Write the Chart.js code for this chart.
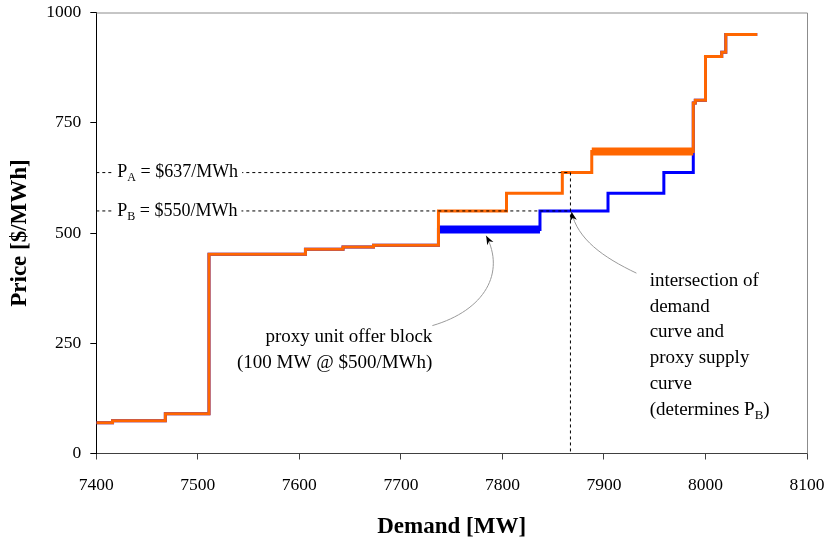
<!DOCTYPE html>
<html><head><meta charset="utf-8">
<script src="https://cdn.jsdelivr.net/npm/chart.js@4/dist/chart.umd.min.js"></script>
<style>html,body{margin:0;padding:0;background:#fff}#wrap{width:826px;height:544px}</style>
</head><body><div id="wrap"><canvas id="c" width="826" height="544"></canvas></div>
<script>
// ---- tick labels ----
const xTicks = [7400, 7500, 7600, 7700, 7800, 7900, 8000, 8100];
const yTicks = [0, 250, 500, 750, 1000];

// ---- original supply curve (orange): block start MW and price ----
const supplyMW    = [7400, 7416, 7468, 7511, 7606, 7643, 7673, 7737, 7804, 7859, 7888, 7988, 7990, 8000, 8016, 8020, 8051];
const supplyPrice = [70,   74,   90,   452,  463,  468,  472,  550,  590,  637,  685,  795,  801,  900,  910,  950,  950];

// ---- proxy supply curve (blue) ----
const proxyMW    = [7400, 7416, 7468, 7511, 7606, 7643, 7673, 7737, 7837, 7904, 7959, 7988, 7990, 8000, 8016, 8020, 8051];
const proxyPrice = [70,   74,   90,   452,  463,  468,  472,  508,  550,  590,  637,  795,  801,  900,  910,  950,  950];

// ---- highlighted 100 MW blocks ----
const proxyBlockMW = [7737, 7837];
const proxyBlockPrice = [508, 508];
const shiftedBlockMW = [7888, 7988];
const shiftedBlockPrice = [685, 685];

// ---- reference prices ----
const intersectionMW = 7867;
const priceA = 637;
const priceB = 550;

const FONT = '"Liberation Serif", "Times New Roman", serif';

function pts(xs, ys) { return xs.map((x, i) => ({x: x, y: ys[i]})); }

function richWidth(ctx, parts, size) {
  let w = 0;
  parts.forEach(p => {
    ctx.font = (p[1] ? Math.round(size * 0.68) : size) + 'px ' + FONT;
    w += ctx.measureText(p[0]).width;
  });
  return w;
}
function drawRich(ctx, parts, x, y, align, size) {
  const w = richWidth(ctx, parts, size);
  let cx = align === 'right' ? x - w : (align === 'center' ? x - w / 2 : x);
  ctx.textAlign = 'left';
  ctx.textBaseline = 'middle';
  parts.forEach(p => {
    const s = p[1] ? Math.round(size * 0.68) : size;
    ctx.font = s + 'px ' + FONT;
    ctx.fillText(p[0], cx, p[1] ? y + size * 0.3 : y);
    cx += ctx.measureText(p[0]).width;
  });
  return w;
}
function arrowHead(ctx, tx, ty, fx, fy) {
  const a = Math.atan2(ty - fy, tx - fx);
  const L = 9, W = 3.5;
  ctx.save();
  ctx.translate(tx, ty); ctx.rotate(a);
  ctx.beginPath();
  ctx.moveTo(0, 0);
  ctx.lineTo(-L, -W);
  ctx.lineTo(-L * 0.7, 0);
  ctx.lineTo(-L, W);
  ctx.closePath();
  ctx.fillStyle = '#000';
  ctx.fill();
  ctx.restore();
}

// annotation curves in data units: [start, ctrl1, ctrl2, tip]
const arrowBlock = [[7731, 290], [7783, 325], [7803, 410], [7784, 494]];
const arrowInter = [[7932, 409], [7899, 445], [7874, 486], [7868, 548]];

const annot = {
  id: 'annot',
  beforeDatasetsDraw(chart) {
    const {ctx, chartArea: a} = chart;
    ctx.save();
    ctx.strokeStyle = '#8c8c8c';
    ctx.lineWidth = 1;
    ctx.beginPath();
    ctx.moveTo(a.left, a.top + 0.5);
    ctx.lineTo(a.right + 0.5, a.top + 0.5);
    ctx.lineTo(a.right + 0.5, a.bottom);
    ctx.stroke();
    ctx.restore();
  },
  afterDatasetsDraw(chart) {
    const {ctx} = chart;
    const xs = chart.scales.x, ys = chart.scales.y;
    const X = v => xs.getPixelForValue(v), Y = v => ys.getPixelForValue(v);
    ctx.save();
    // price labels on the dashed lines
    [[priceA, 'A', '637'], [priceB, 'B', '550']].forEach(([p, sub, txt]) => {
      const parts = [['P', false], [sub, true], [' = $' + txt + '/MWh', false]];
      const x0 = X(7400) + 21;
      const w = richWidth(ctx, parts, 18);
      ctx.fillStyle = '#fff';
      ctx.fillRect(x0 - 4, Y(p) - 9, w + 8, 18);
      ctx.fillStyle = '#000';
      drawRich(ctx, parts, x0, Y(p), 'left', 18);
    });
    // curved arrows
    [arrowBlock, arrowInter].forEach(c => {
      const P = c.map(q => [X(q[0]), Y(q[1])]);
      ctx.strokeStyle = '#9a9a9a';
      ctx.lineWidth = 1;
      ctx.beginPath();
      ctx.moveTo(P[0][0], P[0][1]);
      ctx.bezierCurveTo(P[1][0], P[1][1], P[2][0], P[2][1], P[3][0], P[3][1]);
      ctx.stroke();
      arrowHead(ctx, P[3][0], P[3][1], P[2][0], P[2][1]);
    });
    // text annotations
    ctx.fillStyle = '#000';
    const bx = X(7731), by = Y(264);
    drawRich(ctx, [['proxy unit offer block', false]], bx, by, 'right', 19);
    drawRich(ctx, [['(100 MW @ $500/MWh)', false]], bx, by + 26, 'right', 19);
    const ix = X(7945), iy = Y(392);
    const lines = [
      [['intersection of', false]],
      [['demand', false]],
      [['curve and', false]],
      [['proxy supply', false]],
      [['curve', false]],
      [['(determines P', false], ['B', true], [')', false]]
    ];
    lines.forEach((l, i) => drawRich(ctx, l, ix, iy + i * 25.9, 'left', 19));
    ctx.restore();
  }
};

const ORANGE = '#ff6600', BLUE = '#0000ff';

new Chart(document.getElementById('c'), {
  type: 'line',
  data: {
    datasets: [
      {data: pts([7400, intersectionMW, intersectionMW], [priceA, priceA, 0]), borderColor: '#000', borderWidth: 1, borderDash: [3, 3], pointRadius: 0, order: 0},
      {data: pts([7400, intersectionMW], [priceB, priceB]), borderColor: '#000', borderWidth: 1, borderDash: [3, 3], pointRadius: 0, order: 0},
      {data: pts(shiftedBlockMW, shiftedBlockPrice), borderColor: ORANGE, borderWidth: 8, pointRadius: 0, borderCapStyle: 'butt', order: 1},
      {data: pts(supplyMW, supplyPrice), borderColor: ORANGE, borderWidth: 3, stepped: 'before', pointRadius: 0, borderJoinStyle: 'miter', order: 2},
      {data: pts(proxyBlockMW, proxyBlockPrice), borderColor: BLUE, borderWidth: 8, pointRadius: 0, borderCapStyle: 'butt', order: 3},
      {data: pts(proxyMW, proxyPrice), borderColor: BLUE, borderWidth: 3, stepped: 'before', pointRadius: 0, borderJoinStyle: 'miter', order: 4}
    ]
  },
  options: {
    responsive: false,
    animation: false,
    devicePixelRatio: 1,
    layout: {padding: {top: 12.5, right: 19, left: 0, bottom: 0}},
    plugins: {legend: {display: false}, tooltip: {enabled: false}},
    scales: {
      x: {
        type: 'linear', min: 7400, max: 8100,
        afterBuildTicks: s => { s.ticks = xTicks.map(v => ({value: v})); },
        afterFit: s => { s.height = 90.5; s.paddingLeft = 0; s.paddingRight = 0; },
        ticks: {callback: v => String(v), color: '#000', padding: 15, font: {family: FONT, size: 17.5}},
        grid: {drawOnChartArea: false, drawTicks: true, tickLength: 6, color: '#404040'},
        border: {display: true, color: '#404040', width: 1},
        title: {display: true, text: 'Demand [MW]', color: '#000', font: {family: FONT, size: 23, weight: 'bold'}, padding: {top: 0, bottom: 3}}
      },
      y: {
        type: 'linear', min: 0, max: 1000,
        afterBuildTicks: s => { s.ticks = yTicks.map(v => ({value: v})); },
        afterFit: s => { s.width = 96.3; s.paddingTop = 0; s.paddingBottom = 0; },
        ticks: {callback: v => String(v), color: '#000', padding: 9, font: {family: FONT, size: 17.5}},
        grid: {drawOnChartArea: false, drawTicks: true, tickLength: 6, color: '#000'},
        border: {display: true, color: '#000', width: 1},
        title: {display: true, text: 'Price [$/MWh]', color: '#000', font: {family: FONT, size: 23, weight: 'bold'}, padding: {top: 6, bottom: 0}}
      }
    }
  },
  plugins: [annot]
});
</script>
</body></html>
